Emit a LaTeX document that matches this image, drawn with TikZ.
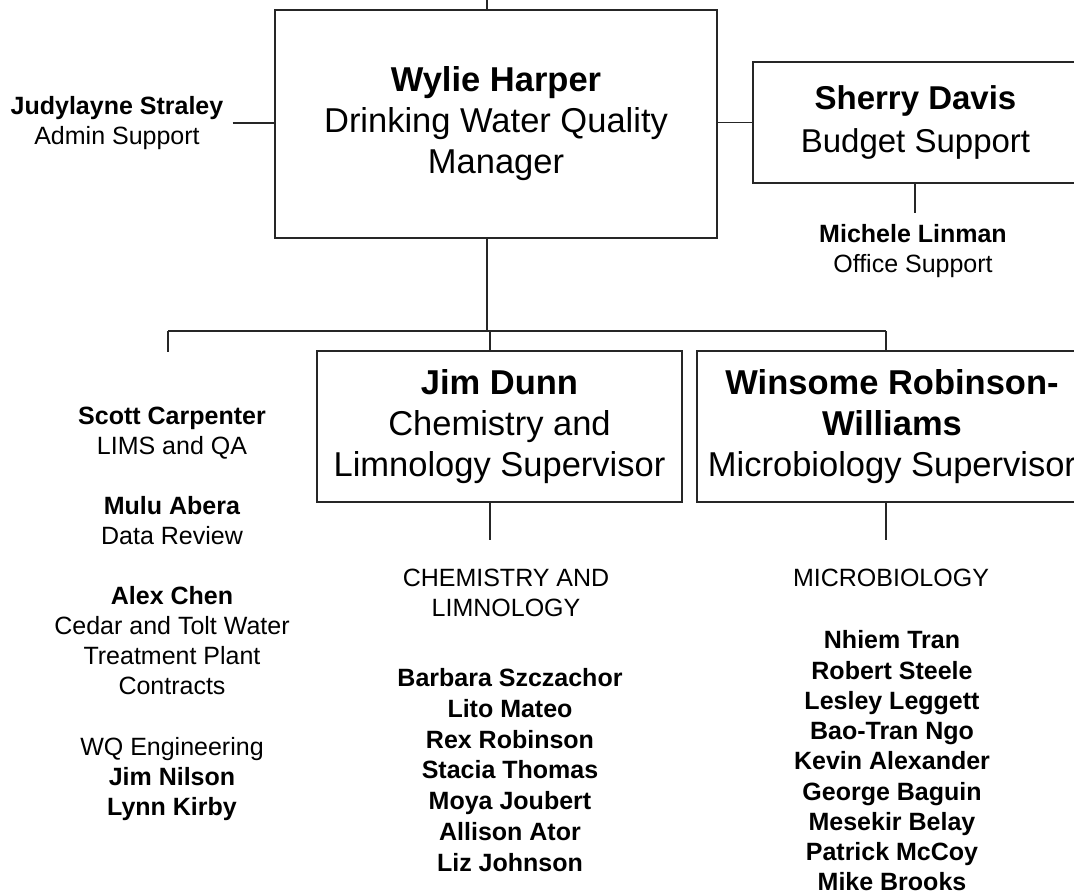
\documentclass[tikz,border=0pt]{standalone}
\usepackage{fontspec}
\setmainfont{Liberation Sans}
\begin{document}
\begin{tikzpicture}[x=1pt,y=-1pt,
  box/.style={draw=black!85,line width=1.6pt,inner sep=0pt,align=center,
    font=\fontsize{34.5}{41}\selectfont},
  small/.style={inner sep=0pt,align=center,font=\fontsize{25}{30}\selectfont},
  wire/.style={draw=black!85,line width=1.6pt}]
\useasboundingbox (0,0) rectangle (1074,896);
\clip (0,0) rectangle (1074,896);

\node[box,minimum width=442,minimum height=228] (harper) at (496,124)
  {\textbf{Wylie Harper}\\Drinking Water Quality\\Manager};
\node[box,minimum width=325,minimum height=121,font=\fontsize{33}{43}\selectfont]
  (davis) at (915.5,122.5) {\textbf{Sherry Davis}\\Budget Support};
\node[box,minimum width=365,minimum height=151] (dunn) at (499.5,426.5)
  {\textbf{Jim Dunn}\\Chemistry and\\Limnology Supervisor};
\node[box,minimum width=390,minimum height=151] (robwil) at (892,426.5)
  {\textbf{Winsome Robinson-}\\\textbf{Williams}\\Microbiology Supervisor};

\node[small] (straley) at (117,123) {\textbf{Judylayne Straley}\\Admin Support};
\node[small] (linman) at (913,251) {\textbf{Michele Linman}\\Office Support};

\node[small] (staff) at (172,614)
  {\textbf{Scott Carpenter}\\LIMS and QA\\[30pt]
   \textbf{Mulu Abera}\\Data Review\\[30pt]
   \textbf{Alex Chen}\\Cedar and Tolt Water\\Treatment Plant\\Contracts\\[31pt]
   WQ Engineering\\\textbf{Jim Nilson}\\\textbf{Lynn Kirby}};

\node[small] (chemhead) at (506,593) {CHEMISTRY AND\\LIMNOLOGY};
\node[small,font=\fontsize{25}{30.7}\selectfont] (chemstaff) at (510,770)
  {\textbf{Barbara Szczachor}\\\textbf{Lito Mateo}\\\textbf{Rex Robinson}\\
   \textbf{Stacia Thomas}\\\textbf{Moya Joubert}\\\textbf{Allison Ator}\\
   \textbf{Liz Johnson}};
\node[small] (michead) at (891,578) {MICROBIOLOGY};
\node[small,font=\fontsize{25}{30.25}\selectfont] (micstaff) at (892,761)
  {\textbf{Nhiem Tran}\\\textbf{Robert Steele}\\\textbf{Lesley Leggett}\\
   \textbf{Bao-Tran Ngo}\\\textbf{Kevin Alexander}\\\textbf{George Baguin}\\
   \textbf{Mesekir Belay}\\\textbf{Patrick McCoy}\\\textbf{Mike Brooks}};

\coordinate (topEnd) at (487,0);
\coordinate (hub) at (487,331);
\coordinate (busL) at (168,331);
\coordinate (busR) at (886,331);
\coordinate (dunnIn) at (490,331);
\coordinate (leftEnd) at (168,352);
\coordinate (linmanTop) at (915,213);
\coordinate (chemEnd) at (490,540);
\coordinate (micEnd) at (886,540);

\draw[wire] (topEnd) -- (topEnd |- harper.north);
\draw[wire] ([xshift=9]straley.east) -- (straley.east -| harper.west);
\draw[wire] (harper.east |- davis.west) -- (davis.west);
\draw[wire] (davis.south -| linmanTop) -- (linmanTop);
\draw[wire] (hub |- harper.south) -- (hub);
\draw[wire] (busL) -- (busR);
\draw[wire] (busL) -- (leftEnd);
\draw[wire] (dunnIn) -- (dunnIn |- dunn.north);
\draw[wire] (busR) -- (busR |- robwil.north);
\draw[wire] (chemEnd |- dunn.south) -- (chemEnd);
\draw[wire] (micEnd |- robwil.south) -- (micEnd);
\end{tikzpicture}
\end{document}
